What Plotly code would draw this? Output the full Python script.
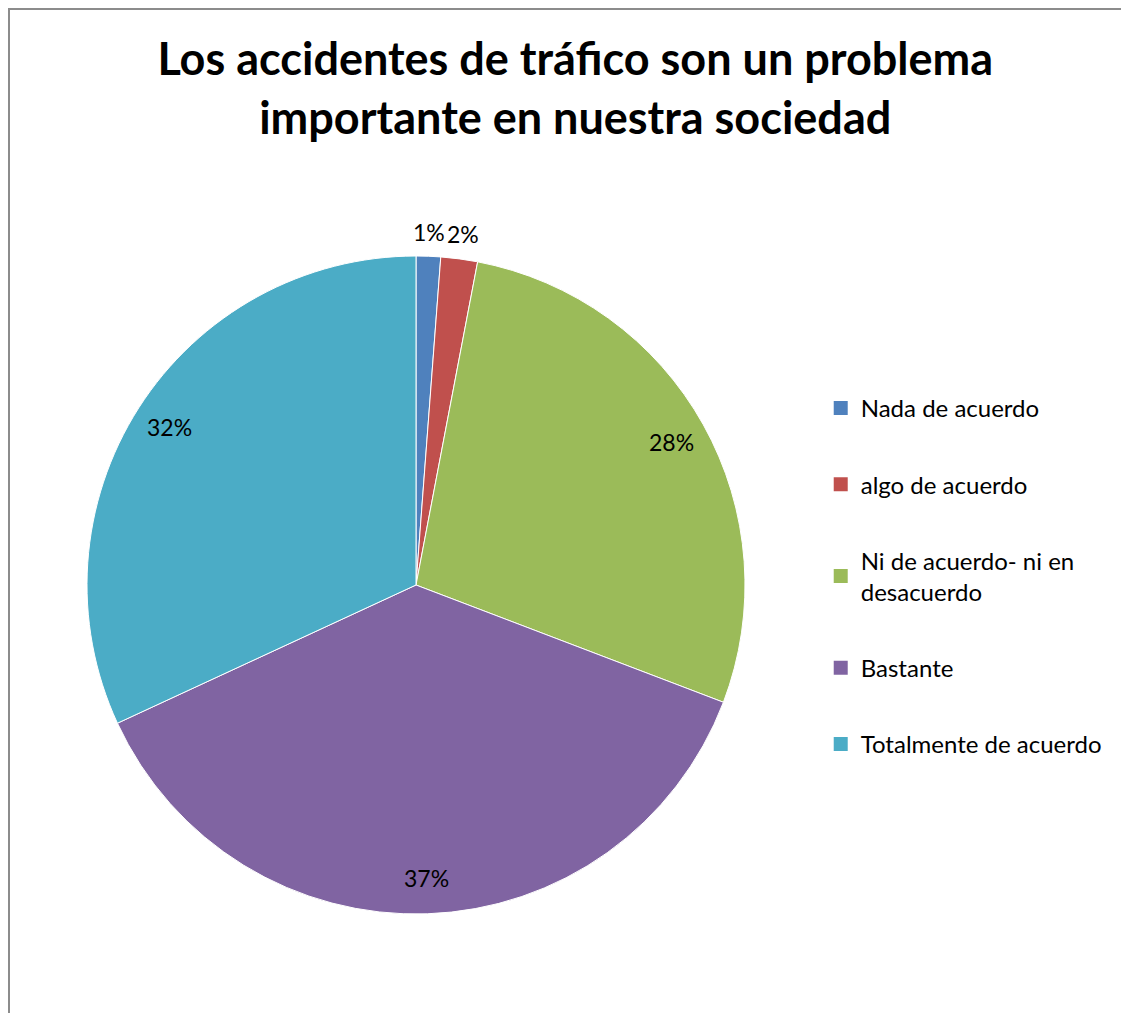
import math
import plotly.graph_objects as go

# data
labels = ["Nada de acuerdo", "algo de acuerdo", "Ni de acuerdo- ni en<br>desacuerdo",
          "Bastante", "Totalmente de acuerdo"]
values = [1.2, 1.8, 27.8, 37.3, 31.9]
colors = ["#4F81BD", "#C0504D", "#9BBB59", "#8064A2", "#4BACC6"]
label_outside = [True, True, False, False, False]

# page has an 8px body margin, so figure coords = page coords - 8
W, H = 1121, 1005
cx, cy, r = 408, 577, 329

fig = go.Figure()

fig.add_trace(go.Pie(
    labels=labels, values=values, sort=False, direction="clockwise", rotation=0,
    marker=dict(colors=colors, line=dict(color="white", width=1)),
    textinfo="none", showlegend=False, hoverinfo="label+percent",
    domain=dict(x=[(cx - r) / W, (cx + r) / W], y=[(H - cy - r) / H, (H - cy + r) / H]),
))

# percentage labels placed like Excel does (near the rim / just outside)
total = sum(values)
cum = 0
annotations = []
for v, out in zip(values, label_outside):
    ang = math.radians((cum + v / 2) / total * 360)
    cum += v
    k = 1.075 if out else 0.89
    px = cx + k * r * math.sin(ang)
    py = cy - k * r * math.cos(ang)
    annotations.append(dict(
        x=px / W, y=1 - py / H, xref="paper", yref="paper",
        text=f"{round(v / total * 100)}%", showarrow=False,
        xanchor="center", yanchor="middle",
        font=dict(family="Lato", size=23, color="black"),
    ))

# legend entries, one group each so the gap can be set
for i, (lab, col) in enumerate(zip(labels, colors)):
    fig.add_trace(go.Scatter(
        x=[None], y=[None], mode="markers", name=lab, legendgroup=str(i),
        marker=dict(symbol="square", size=14, color=col),
    ))

fig.update_layout(
    width=W, height=H,
    margin=dict(l=0, r=0, t=0, b=0),
    paper_bgcolor="white", plot_bgcolor="white",
    xaxis=dict(visible=False), yaxis=dict(visible=False),
    title=dict(
        text="Los accidentes de tráfico son un problema<br>importante en nuestra sociedad",
        x=0.506, xanchor="center", y=0.933, yanchor="middle",
        font=dict(family="Lato", size=45, color="black", weight="bold"),
    ),
    legend=dict(
        x=0.725, xanchor="left", y=0.624, yanchor="top",
        font=dict(family="Lato", size=24, color="black"),
        tracegroupgap=42, itemwidth=30, bgcolor="rgba(0,0,0,0)",
    ),
    annotations=annotations,
    shapes=[dict(type="rect", xref="paper", yref="paper",
                 x0=1 / W, x1=1.02, y0=-0.02, y1=1 - 1 / H,
                 line=dict(color="#8C8C8C", width=2))],
)

fig.write_html("out.html")
